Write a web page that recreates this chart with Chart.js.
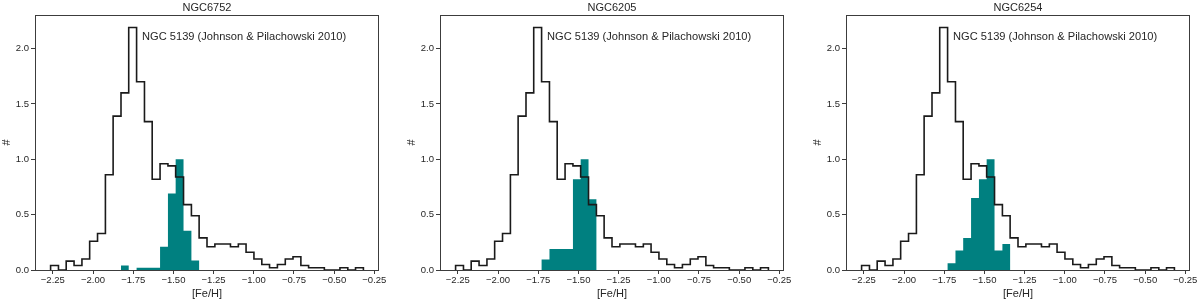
<!DOCTYPE html>
<html>
<head>
<meta charset="utf-8">
<script src="https://cdn.jsdelivr.net/npm/chart.js@4.4.0/dist/chart.umd.min.js"></script>
<style>
  body { margin: 0; background: #fff; overflow: hidden; }
  #wrap { position: relative; width: 1200px; height: 301px; overflow: hidden; }
  canvas { position: absolute; top: 0; }
</style>
</head>
<body>
<div id="wrap">
  <canvas id="c0" width="400" height="301" style="left:0px"></canvas>
  <canvas id="c1" width="400" height="301" style="left:405px"></canvas>
  <canvas id="c2" width="400" height="301" style="left:811px"></canvas>
</div>
<script>
// bin edges of the [Fe/H] histograms (40 bins)
const binEdges = [
  -2.264, -2.215, -2.167, -2.118, -2.069, -2.021, -1.972, -1.923, -1.875, -1.826,
  -1.778, -1.729, -1.680, -1.632, -1.583, -1.534, -1.486, -1.437, -1.388, -1.340,
  -1.291, -1.242, -1.194, -1.145, -1.096, -1.048, -0.999, -0.950, -0.902, -0.853,
  -0.804, -0.756, -0.707, -0.659, -0.610, -0.561, -0.513, -0.464, -0.415, -0.367,
  -0.318
];

// NGC 5139 (Johnson & Pilachowski 2010), same in every panel
const omegaCen = [
  0.04, 0, 0.08, 0.04, 0.10, 0.26, 0.33, 0.86, 1.39, 1.60,
  2.19, 1.70, 1.34, 0.82, 0.96, 0.94, 0.84, 0.59, 0.49, 0.29,
  0.21, 0.235, 0.235, 0.21, 0.235, 0.16, 0.10, 0.05, 0.02, 0.05,
  0.10, 0.12, 0.04, 0.02, 0.02, 0, 0, 0.02, 0, 0.02
];

// cluster histograms (teal), normalised to peak 1
const ngc6752 = [
  0, 0, 0, 0, 0, 0, 0, 0, 0, 0.04,
  0, 0.02, 0.02, 0.02, 0.21, 0.69, 1.0, 0.355, 0.085, 0,
  0, 0, 0, 0, 0, 0, 0, 0, 0, 0,
  0, 0, 0, 0, 0, 0, 0, 0, 0, 0
];
const ngc6205 = [
  0, 0, 0, 0, 0, 0, 0, 0, 0, 0,
  0, 0.095, 0.19, 0.19, 0.19, 0.82, 1.0, 0.64, 0, 0,
  0, 0, 0, 0, 0, 0, 0, 0, 0, 0,
  0, 0, 0, 0, 0, 0, 0, 0, 0, 0
];
const ngc6254 = [
  0, 0, 0, 0, 0, 0, 0, 0, 0, 0,
  0, 0.06, 0.175, 0.29, 0.65, 0.82, 1.0, 0.175, 0.235, 0,
  0, 0, 0, 0, 0, 0, 0, 0, 0, 0,
  0, 0, 0, 0, 0, 0, 0, 0, 0, 0
];

const panelNames = ["NGC6752", "NGC6205", "NGC6254"];
const panelData = [ngc6752, ngc6205, ngc6254];

const xMin = -2.361, xMax = -0.221;
const yMax = 2.303;
const noteText = "NGC 5139 (Johnson & Pilachowski 2010)";
const noteX = -1.695, noteY = 2.075;

Chart.defaults.font.family = '"Liberation Sans", Arial, sans-serif';
Chart.defaults.color = "#262626";

function stepPoints(edges, values) {
  const pts = [{ x: edges[0], y: 0 }];
  values.forEach((v, i) => pts.push({ x: edges[i], y: v }));
  pts.push({ x: edges[edges.length - 1], y: 0 });
  return pts;
}

const framePlugin = {
  id: "frame",
  afterDraw(chart, args, opts) {
    const { ctx, chartArea: a, scales } = chart;
    ctx.save();
    ctx.strokeStyle = "#3c3c3c";
    ctx.lineWidth = 1;
    ctx.strokeRect(a.left + 0.5, a.top + 0.5, a.right - a.left - 1, a.bottom - a.top);
    ctx.fillStyle = "#262626";
    ctx.font = '11px "Liberation Sans", Arial, sans-serif';
    ctx.textAlign = "center";
    ctx.textBaseline = "middle";
    ctx.fillText(opts.title, (a.left + a.right) / 2, 7.5);
    ctx.font = '11.1px "Liberation Sans", Arial, sans-serif';
    ctx.textAlign = "left";
    ctx.textBaseline = "alphabetic";
    ctx.fillText(noteText, scales.x.getPixelForValue(noteX), scales.y.getPixelForValue(noteY));
    ctx.restore();
  },
};

panelNames.forEach((name, p) => {
  const ctx = document.getElementById("c" + p).getContext("2d");
  new Chart(ctx, {
    type: "line",
    data: {
      datasets: [
        {
          label: "NGC 5139",
          data: stepPoints(binEdges, omegaCen),
          stepped: true,
          borderColor: "#1a1a1a",
          borderWidth: 1.6,
          borderJoinStyle: "miter",
          pointRadius: 0,
          fill: false,
          order: 0,
        },
        {
          label: name,
          data: stepPoints(binEdges, panelData[p]),
          stepped: true,
          borderColor: "rgba(0,0,0,0)",
          backgroundColor: "#008080",
          pointRadius: 0,
          fill: "origin",
          order: 1,
        },
      ],
    },
    options: {
      responsive: false,
      animation: false,
      devicePixelRatio: 1,
      layout: { padding: { left: 0, right: 21, top: 15, bottom: 0 } },
      plugins: {
        legend: { display: false },
        tooltip: { enabled: false },
        frame: { title: name },
      },
      scales: {
        x: {
          type: "linear",
          min: xMin,
          max: xMax,
          afterFit: (scale) => { scale.height = 31; },
          border: { display: false },
          grid: { drawOnChartArea: false, drawTicks: true, tickLength: 4, color: "#3c3c3c" },
          ticks: {
            stepSize: 0.25,
            includeBounds: false,
            autoSkip: false,
            maxRotation: 0,
            padding: 1,
            font: { size: 9.5 },
            callback: (v) => v.toFixed(2).replace("-", "\u2212"),
          },
          title: { display: true, text: "[Fe/H]", font: { size: 11 }, padding: { top: 0, bottom: 0 } },
        },
        y: {
          min: 0,
          max: yMax,
          afterFit: (scale) => { scale.width = 35; },
          border: { display: false },
          grid: { drawOnChartArea: false, drawTicks: true, tickLength: 4, color: "#3c3c3c" },
          ticks: {
            stepSize: 0.5,
            includeBounds: false,
            padding: 2,
            font: { size: 9.5 },
            callback: (v) => v.toFixed(1),
          },
          title: { display: true, text: "#", font: { size: 11 }, padding: { top: 0, bottom: 0 } },
        },
      },
    },
    plugins: [framePlugin],
  });
});
</script>
</body>
</html>
